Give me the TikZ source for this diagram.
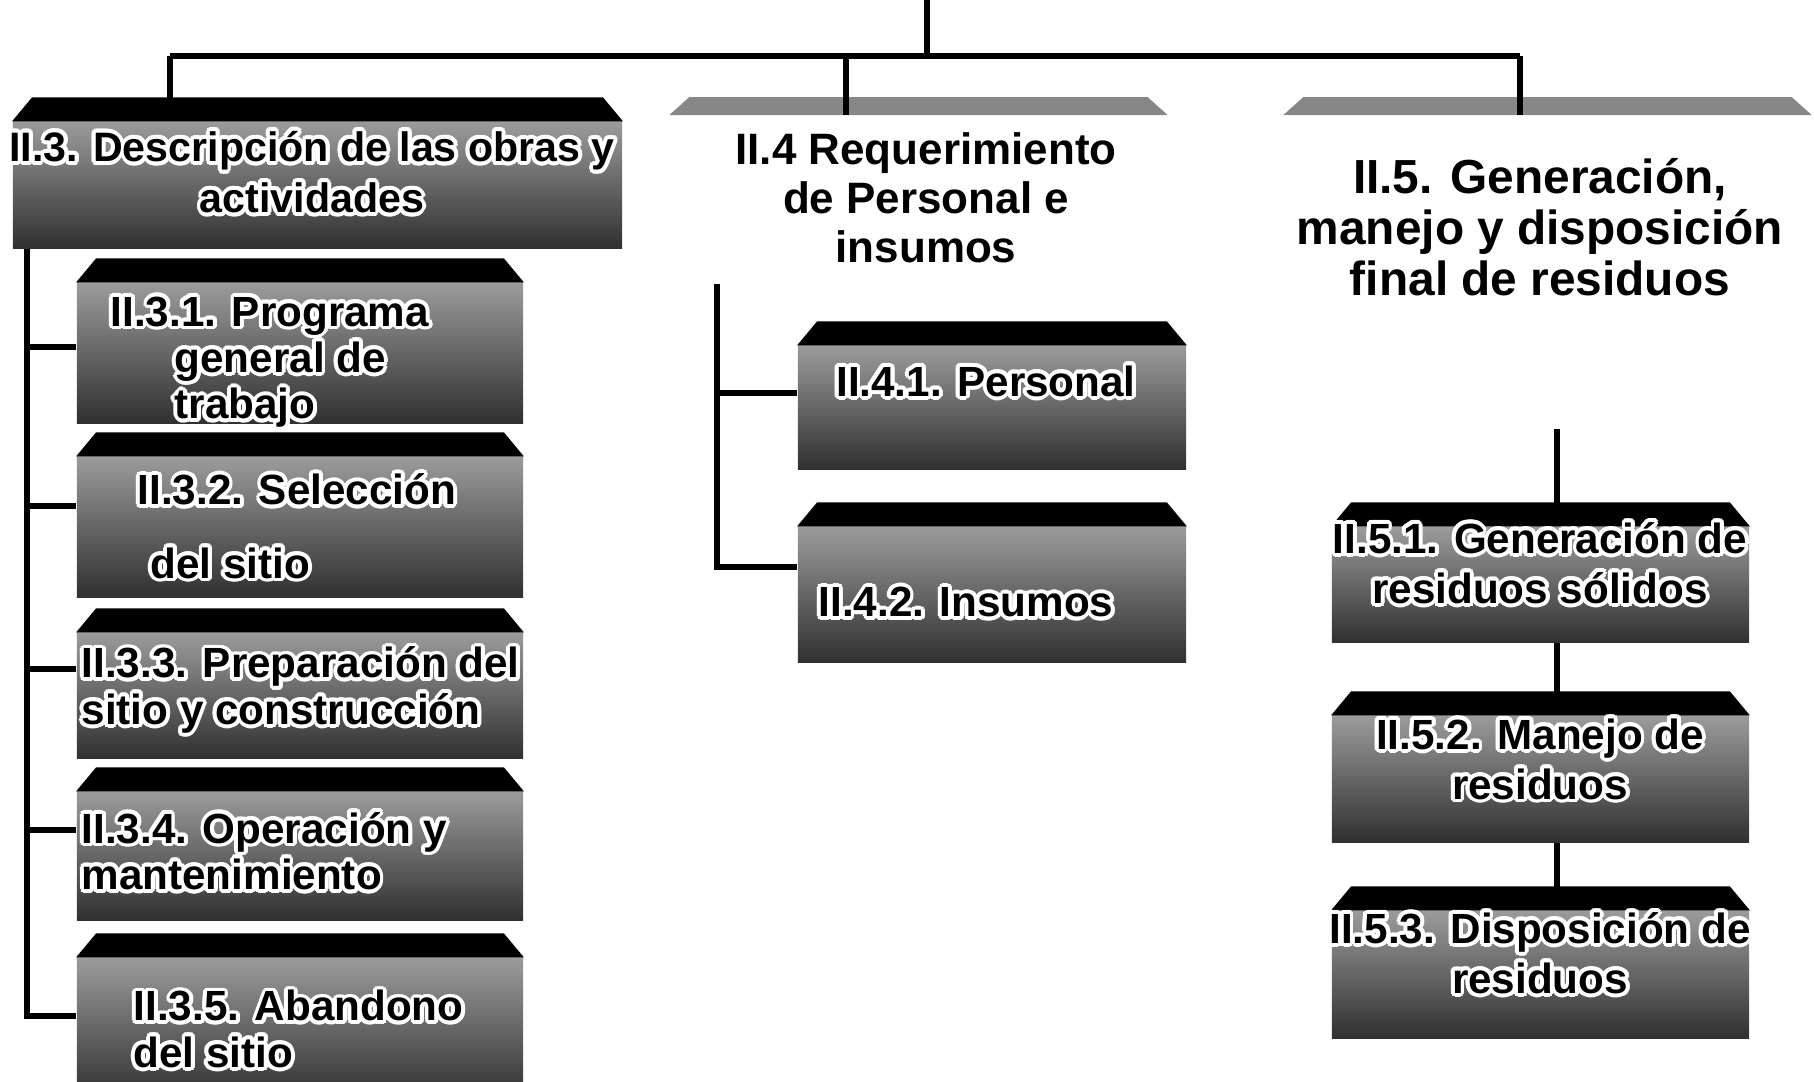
\documentclass[tikz,border=0pt]{standalone}
\usepackage{fontspec}
\setmainfont{Liberation Sans}
\usepackage{tikz}
\usepackage{contour}
\usetikzlibrary{calc}
\definecolor{boxtop}{RGB}{155,155,155}
\definecolor{boxmid}{RGB}{115,115,115}
\definecolor{boxbot}{RGB}{48,48,48}
\definecolor{bevgray}{RGB}{135,135,135}
\contourlength{1.1pt}
% texto con halo blanco
\newcommand{\hl}[1]{\contour{white}{#1}}
% bisel superior (nodo, color, alto)
\newcommand{\bisel}[3]{%
  \fill[#2] (#1.north west) -- (#1.north east)
    -- ([shift={(-20,-#3)}]#1.north east) -- ([shift={(20,-#3)}]#1.north west) -- cycle;}
\tikzset{
  % conectores
  conn/.style    = {line width=1.5pt, draw=black},
  % cajas
  darkbox/.style = {rectangle, inner sep=0pt, top color=boxtop, middle color=boxmid, bottom color=boxbot},
  headbox/.style = {rectangle, inner sep=0pt},
  % textos
  boxtxt/.style  = {inner sep=0pt, align=center, font=\fontsize{12}{13.2}\selectfont\bfseries},
  boxtxtl/.style = {boxtxt, align=left, anchor=west},
}
\begin{document}
\begin{tikzpicture}[x=0.01cm, y=-0.01cm]
  \useasboundingbox (0,0) rectangle (1814,1082);
  \clip (0,0) rectangle (1814,1082);
  % II.3 (columna izquierda)
  \node[darkbox, minimum width=6.09cm, minimum height=1.26cm] (h3) at (317.5,185) {};
  \node[darkbox, minimum width=4.46cm, minimum height=1.40cm] (b31) at (300,353) {};
  \node[darkbox, minimum width=4.46cm, minimum height=1.40cm] (b32) at (300,527) {};
  \node[darkbox, minimum width=4.46cm, minimum height=1.25cm] (b33) at (300,695.5) {};
  \node[darkbox, minimum width=4.46cm, minimum height=1.28cm] (b34) at (300,856) {};
  \node[darkbox, minimum width=4.46cm, minimum height=1.42cm] (b35) at (300,1029) {};
  % II.4 (columna central)
  \node[headbox, minimum width=4.97cm, minimum height=1.67cm] (h4) at (918.5,199.5) {};
  \node[darkbox, minimum width=3.88cm, minimum height=1.23cm] (b41) at (992,407.5) {};
  \node[darkbox, minimum width=3.88cm, minimum height=1.35cm] (b42) at (992,594.5) {};
  % II.5 (columna derecha)
  \node[headbox, minimum width=5.27cm, minimum height=3.12cm] (h5) at (1547.5,272) {};
  \node[darkbox, minimum width=4.17cm, minimum height=1.15cm] (b51) at (1540.5,584.5) {};
  \node[darkbox, minimum width=4.17cm, minimum height=1.26cm] (b52) at (1540.5,779) {};
  \node[darkbox, minimum width=4.17cm, minimum height=1.27cm] (b53) at (1540.5,974.5) {};
  % biseles
  \foreach \n in {h3,b31,b32,b33,b34,b35,b41,b42,b51,b52,b53}
    \bisel{\n}{black}{24};
  \bisel{h4}{bevgray}{18}
  \bisel{h5}{bevgray}{18}
  % conectores
  \coordinate (top) at (927,0);
  \coordinate (bus) at (927,56);
  \coordinate (j3) at (170,56);
  \coordinate (j4) at (846,56);
  \coordinate (j5) at (1520,56);
  \draw[conn] (top) -- (bus);
  \draw[conn] (j3) -- (j5);
  \draw[conn] (j3) -- (j3 |- h3.north);
  \draw[conn] (j4) -- (j4 |- h4.north);
  \draw[conn] (j5) -- (j5 |- h5.north);
  \coordinate (k3) at (27,0);
  \foreach \b/\y in {b31/347,b32/506,b33/669,b34/830,b35/1016}
    \draw[conn] (h3.south -| k3) |- (\b.west |- 0,\y);
  \coordinate (k4) at (717,0);
  \foreach \b/\y in {b41/393,b42/567}
    \draw[conn] (h4.south -| k4) |- (\b.west |- 0,\y);
  \coordinate (k5) at (1557,0);
  \draw[conn] (h5.south -| k5) -- (b51.north -| k5);
  \draw[conn] (b51.south -| k5) -- (b52.north -| k5);
  \draw[conn] (b52.south -| k5) -- (b53.north -| k5);
  % textos
  \node[boxtxt, font=\fontsize{11.7}{14.5}\selectfont\bfseries] (t3) at (312,174)
    {\hl{II.3. Descripción de las obras y}\\\hl{actividades}};
  \node[boxtxtl] (t31) at (110,364)
    {\hl{II.3.1. Programa}\\\hspace*{0.64cm}\hl{general de}\\\hspace*{0.64cm}\hl{trabajo}};
  \node[boxtxtl] (t32) at (137,528)
    {\hl{II.3.2. Selección}\\[0.27cm]\hspace*{0.13cm}\hl{del sitio}};
  \node[boxtxtl] (t33) at (81,692) {\hl{II.3.3. Preparación del}\\\hl{sitio y construcción}};
  \node[boxtxtl] (t34) at (81,853) {\hl{II.3.4. Operación y}\\\hl{mantenimiento}};
  \node[boxtxtl] (t35) at (133,1031) {\hl{II.3.5. Abandono}\\\hl{del sitio}};
  \node[boxtxt, font=\fontsize{12.5}{13.9}\selectfont\bfseries] (th4) at (926,198)
    {II.4 Requerimiento\\de Personal e\\insumos};
  \node[boxtxt] (t41) at (986,383) {\hl{II.4.1. Personal}};
  \node[boxtxt] (t42) at (966,604) {\hl{II.4.2. Insumos}};
  \node[boxtxt, font=\fontsize{13.6}{14.5}\selectfont\bfseries] (th5) at (1540,227)
    {II.5. Generación,\\manejo y disposición\\final de residuos};
  \node[boxtxt, font=\fontsize{12}{14.2}\selectfont\bfseries] (t51) at (1540,565)
    {\hl{II.5.1. Generación de}\\\hl{residuos sólidos}};
  \node[boxtxt, font=\fontsize{12}{14.2}\selectfont\bfseries] (t52) at (1540,761)
    {\hl{II.5.2. Manejo de}\\\hl{residuos}};
  \node[boxtxt, font=\fontsize{12}{14.2}\selectfont\bfseries] (t53) at (1540,955)
    {\hl{II.5.3. Disposición de}\\\hl{residuos}};
\end{tikzpicture}
\end{document}
